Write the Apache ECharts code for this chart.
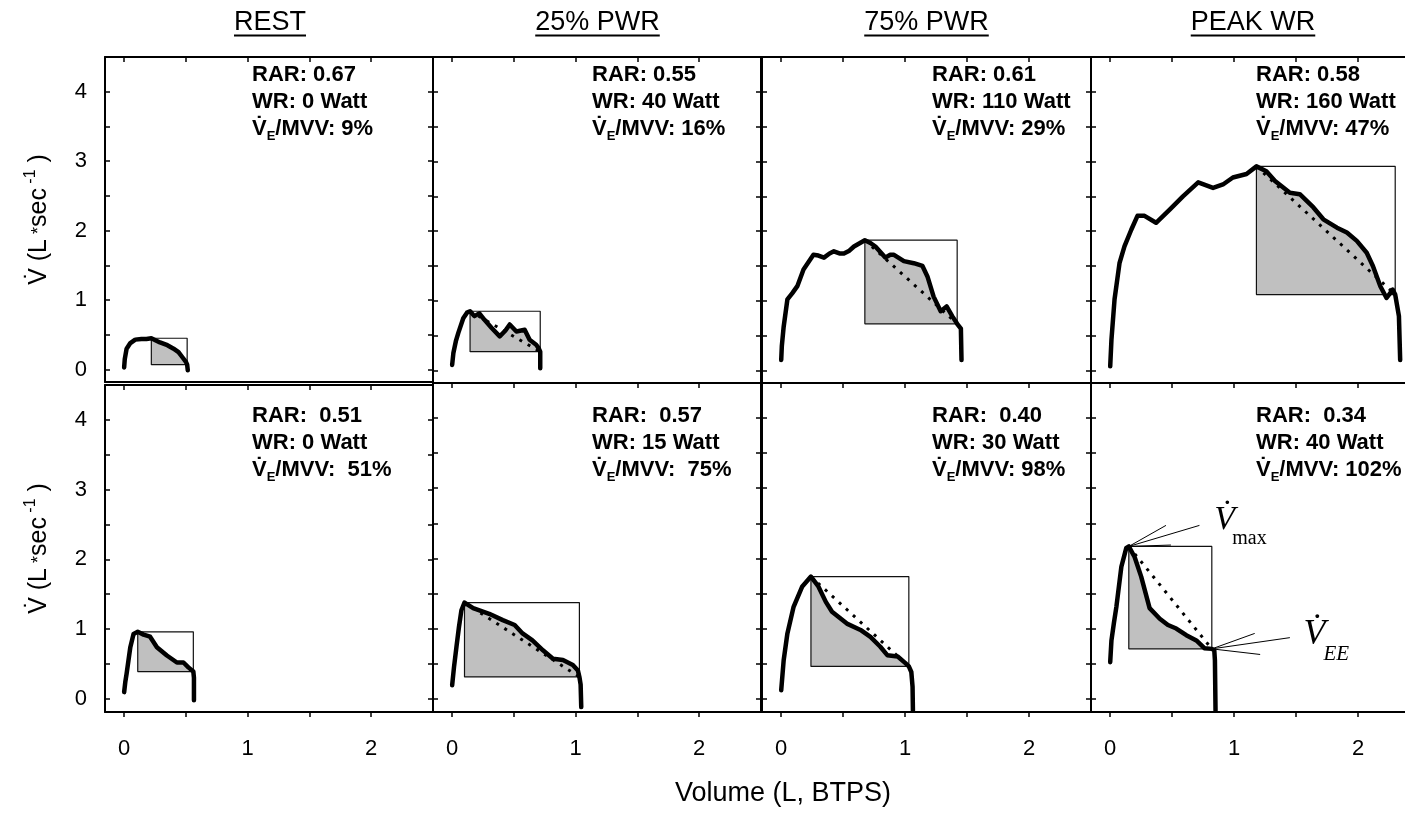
<!DOCTYPE html>
<html><head><meta charset="utf-8">
<script src="https://cdn.jsdelivr.net/npm/echarts@6/dist/echarts.min.js"></script>
<style>html,body{margin:0;padding:0;background:#fff}#c{width:1405px;height:813px}</style>
</head><body><div id="c"></div>
<script>
// ---------------- DATA ----------------
const panelTitles = ['REST', '25% PWR', '75% PWR', 'PEAK WR'];
const xTickValues = [0, 0.5, 1, 1.5, 2];
const xLabelValues = [0, 1, 2];
const yTickValues = [0, 0.5, 1, 1.5, 2, 2.5, 3, 3.5, 4];
const yLabelValues = [0, 1, 2, 3, 4];
const xAxisTitle = 'Volume (L, BTPS)';

// top row (healthy): volume (L) and flow (L/s)
const volRestTop = [0, 0.005, 0.02, 0.05, 0.09, 0.14, 0.18, 0.22, 0.29, 0.35, 0.40, 0.44, 0.47, 0.50, 0.51, 0.515];
const flowRestTop = [0.03, 0.15, 0.30, 0.38, 0.43, 0.44, 0.44, 0.45, 0.39, 0.35, 0.30, 0.25, 0.18, 0.11, 0.07, -0.01];
const vol25Top = [0, 0.01, 0.03, 0.05, 0.09, 0.12, 0.145, 0.18, 0.22, 0.26, 0.32, 0.385, 0.43, 0.466, 0.52, 0.587, 0.627, 0.68, 0.70, 0.713, 0.713];
const flow25Top = [0.08, 0.25, 0.42, 0.54, 0.75, 0.83, 0.85, 0.78, 0.82, 0.73, 0.61, 0.49, 0.57, 0.66, 0.56, 0.585, 0.44, 0.37, 0.32, 0.27, 0.03];
const vol75Top = [0, 0.005, 0.02, 0.05, 0.09, 0.13, 0.18, 0.26, 0.30, 0.345, 0.39, 0.425, 0.47, 0.506, 0.55, 0.587, 0.675, 0.72, 0.76, 0.80, 0.84, 0.88, 0.91, 0.99, 1.07, 1.14, 1.18, 1.23, 1.287, 1.335, 1.38, 1.42, 1.45, 1.455];
const flow75Top = [0.15, 0.35, 0.63, 1.02, 1.11, 1.21, 1.45, 1.66, 1.65, 1.62, 1.68, 1.71, 1.68, 1.68, 1.72, 1.78, 1.87, 1.83, 1.78, 1.70, 1.62, 1.66, 1.66, 1.57, 1.54, 1.50, 1.35, 1.06, 0.85, 0.92, 0.78, 0.67, 0.60, 0.15];
const volPeakTop = [0, 0.01, 0.035, 0.075, 0.115, 0.17, 0.22, 0.277, 0.37, 0.48, 0.587, 0.71, 0.83, 0.91, 0.99, 1.10, 1.18, 1.26, 1.33, 1.45, 1.53, 1.64, 1.72, 1.83, 1.91, 1.99, 2.07, 2.12, 2.18, 2.23, 2.28, 2.30, 2.33, 2.34];
const flowPeakTop = [0.06, 0.44, 1.02, 1.54, 1.78, 2.02, 2.22, 2.22, 2.12, 2.31, 2.50, 2.70, 2.62, 2.67, 2.77, 2.82, 2.93, 2.86, 2.72, 2.55, 2.53, 2.34, 2.17, 2.05, 1.98, 1.86, 1.69, 1.50, 1.21, 1.04, 1.16, 1.09, 0.78, 0.15];

// bottom row (patient)
const volRestBot = [0, 0.01, 0.02, 0.035, 0.05, 0.076, 0.11, 0.157, 0.21, 0.265, 0.346, 0.427, 0.48, 0.52, 0.56, 0.565, 0.565];
const flowRestBot = [0.095, 0.25, 0.36, 0.55, 0.74, 0.93, 0.96, 0.92, 0.89, 0.74, 0.62, 0.52, 0.52, 0.45, 0.39, 0.30, -0.02];
const vol25Bot = [0, 0.015, 0.035, 0.055, 0.075, 0.10, 0.17, 0.30, 0.41, 0.506, 0.57, 0.65, 0.735, 0.816, 0.897, 0.977, 1.018, 1.03, 1.04, 1.045];
const flow25Bot = [0.19, 0.45, 0.74, 1.02, 1.26, 1.37, 1.29, 1.21, 1.12, 1.05, 0.93, 0.83, 0.69, 0.57, 0.55, 0.48, 0.40, 0.31, 0.20, -0.12];
const vol75Bot = [0, 0.02, 0.05, 0.10, 0.17, 0.24, 0.30, 0.36, 0.41, 0.53, 0.64, 0.72, 0.80, 0.856, 0.94, 1.00, 1.03, 1.05, 1.06, 1.063];
const flow75Bot = [0.12, 0.55, 0.93, 1.31, 1.60, 1.74, 1.60, 1.38, 1.24, 1.07, 0.98, 0.88, 0.74, 0.62, 0.60, 0.51, 0.46, 0.38, 0.17, -0.17];
const volPeakBot = [0, 0.01, 0.03, 0.05, 0.09, 0.13, 0.15, 0.197, 0.25, 0.318, 0.40, 0.466, 0.533, 0.614, 0.695, 0.76, 0.82, 0.84, 0.845, 0.85];
const flowPeakBot = [0.52, 0.83, 1.08, 1.31, 1.88, 2.15, 2.17, 2.02, 1.74, 1.29, 1.14, 1.05, 1.00, 0.905, 0.83, 0.72, 0.71, 0.69, 0.55, -0.17];

// peak expiratory flow point and end-expiratory point, per panel (top row then bottom row)
const vmaxVol = [0.22, 0.145, 0.675, 1.18, 0.11, 0.10, 0.24, 0.15];
const vmaxFlow = [0.45, 0.85, 1.87, 2.93, 0.96, 1.37, 1.74, 2.17];
const veeVol = [0.51, 0.713, 1.42, 2.30, 0.56, 1.03, 1.03, 0.82];
const veeFlow = [0.07, 0.27, 0.67, 1.09, 0.39, 0.31, 0.46, 0.71];
const showDiagonal = [false, true, true, true, false, true, true, true];

const rarText = ['RAR: 0.67', 'RAR: 0.55', 'RAR: 0.61', 'RAR: 0.58', 'RAR:  0.51', 'RAR:  0.57', 'RAR:  0.40', 'RAR:  0.34'];
const wrText = ['WR: 0 Watt', 'WR: 40 Watt', 'WR: 110 Watt', 'WR: 160 Watt', 'WR: 0 Watt', 'WR: 15 Watt', 'WR: 30 Watt', 'WR: 40 Watt'];
const mvvText = ['/MVV: 9%', '/MVV: 16%', '/MVV: 29%', '/MVV: 47%', '/MVV:  51%', '/MVV:  75%', '/MVV: 98%', '/MVV: 102%'];

// ---------------- LAYOUT ----------------
const FONT = '"Liberation Sans", Arial, Helvetica, sans-serif';
const SERIF = '"Liberation Serif", "Times New Roman", serif';
const colLeft = [105, 433, 762, 1091];
const colWidth = [328, 328, 329, 314];
const colXMax = [2.5, 2.5, 2.5, 2.379];   // last panel is cut by the page edge
const titleCenter = [270, 597.5, 926.5, 1253];
const annoOffset = [147, 159, 170, 165];
const X_MIN = -0.155;
const Y_MAX = 4.5;

const curves = [
  [volRestTop, flowRestTop], [vol25Top, flow25Top], [vol75Top, flow75Top], [volPeakTop, flowPeakTop],
  [volRestBot, flowRestBot], [vol25Bot, flow25Bot], [vol75Bot, flow75Bot], [volPeakBot, flowPeakBot]
];

function shadePolygon(v, f, xm, ym, xe, ye) {
  const pts = [[xm, ye]];
  let started = false;
  for (let k = 0; k < v.length; k++) {
    if (!started && v[k] === xm && f[k] === ym) started = true;
    if (!started) continue;
    if (f[k] <= ye) {
      const p = pts[pts.length - 1];
      const t = (p[1] - ye) / (p[1] - f[k] || 1);
      pts.push([p[0] + t * (v[k] - p[0]), ye]);
      break;
    }
    pts.push([v[k], f[k]]);
  }
  return pts;
}

const grids = [], xAxes = [], yAxes = [], series = [];
for (let i = 0; i < 8; i++) {
  const row = i < 4 ? 0 : 1, col = i % 4;
  let top, height, yMin;
  if (row === 0) { top = 57; height = col === 0 ? 325 : 326; yMin = -0.18; }
  else { top = col === 0 ? 385 : 383; height = 712 - top; yMin = -0.19; }
  grids.push({ left: colLeft[col], top: top, width: colWidth[col], height: height });

  const axisLine = { show: true, onZero: false, lineStyle: { color: '#000', width: 2 } };
  xAxes.push({
    gridIndex: i, type: 'value', min: X_MIN, max: colXMax[col], position: 'bottom',
    axisLine: axisLine,
    axisTick: { show: row === 1, inside: false, length: 5, customValues: xTickValues, lineStyle: { color: '#000', width: 1.5 } },
    axisLabel: { show: row === 1, customValues: xLabelValues, fontFamily: FONT, fontSize: 22, color: '#000', margin: 26, formatter: v => String(Math.round(v)) },
    splitLine: { show: false }
  });
  xAxes.push({
    gridIndex: i, type: 'value', min: X_MIN, max: colXMax[col], position: 'top',
    axisLine: axisLine,
    axisTick: { show: true, inside: true, length: 5, customValues: xTickValues, lineStyle: { color: '#000', width: 1.5 } },
    axisLabel: { show: false }, splitLine: { show: false }
  });
  const yLeft = {
    gridIndex: i, type: 'value', min: yMin, max: Y_MAX, position: 'left',
    axisLine: axisLine,
    axisTick: { show: true, inside: true, length: 5, customValues: yTickValues, lineStyle: { color: '#000', width: 1.5 } },
    axisLabel: { show: col === 0, customValues: yLabelValues, fontFamily: FONT, fontSize: 22, color: '#000', margin: 18, formatter: v => String(Math.round(v)) },
    splitLine: { show: false }
  };
  if (col === 0) {
    yLeft.name = '{v|V\u0307 (L}{a| *}{v|sec}{sup| -1}{v| )}';
    yLeft.nameLocation = 'middle';
    yLeft.nameRotate = 90;
    yLeft.nameGap = 50;
    yLeft.nameTextStyle = {
      fontFamily: FONT, fontSize: 25, color: '#000',
      rich: {
        v: { fontFamily: FONT, fontSize: 25, color: '#000', lineHeight: 32 },
        a: { fontFamily: FONT, fontSize: 18, color: '#000', lineHeight: 32 },
        sup: { fontFamily: FONT, fontSize: 16, color: '#000', lineHeight: 17, verticalAlign: 'top' }
      }
    };
  }
  yAxes.push(yLeft);
  yAxes.push({
    gridIndex: i, type: 'value', min: yMin, max: Y_MAX, position: 'right',
    axisLine: { show: col !== 3, onZero: false, lineStyle: { color: '#000', width: 2 } },
    axisTick: { show: col !== 3, inside: true, length: 5, customValues: yTickValues, lineStyle: { color: '#000', width: 1.5 } },
    axisLabel: { show: false }, splitLine: { show: false }
  });

  const v = curves[i][0], f = curves[i][1];
  const xm = vmaxVol[i], ym = vmaxFlow[i], xe = veeVol[i], ye = veeFlow[i];
  const poly = shadePolygon(v, f, xm, ym, xe, ye);
  const xi = 2 * i, yi = 2 * i;
  series.push({
    type: 'custom', xAxisIndex: xi, yAxisIndex: yi, silent: true, z: 1,
    data: [[xm, ye]],
    renderItem: (params, api) => ({
      type: 'polygon',
      shape: { points: poly.map(p => api.coord(p)) },
      style: { fill: '#c0c0c0', stroke: null }
    })
  });
  series.push({
    type: 'line', xAxisIndex: xi, yAxisIndex: yi, silent: true, z: 2, showSymbol: false, symbol: 'none',
    data: [[xm, ym], [xe, ym], [xe, ye], [xm, ye], [xm, ym]],
    lineStyle: { color: '#111', width: 1.2 }
  });
  if (showDiagonal[i]) {
    series.push({
      type: 'line', xAxisIndex: xi, yAxisIndex: yi, silent: true, z: 3, showSymbol: false, symbol: 'none',
      data: [[xm, ym], [xe, ye]],
      lineStyle: { color: '#000', width: 3, type: [3, 6.5] }
    });
  }
  series.push({
    type: 'line', xAxisIndex: xi, yAxisIndex: yi, silent: true, z: 4, showSymbol: false, symbol: 'none',
    data: v.map((x, k) => [x, f[k]]),
    lineStyle: { color: '#000', width: 4.5, cap: 'round', join: 'round' }
  });
}

// leader lines for the V'max and V'EE annotation (bottom-right panel, data units)
const leaderEndsMax = [[0.45, 2.47], [0.72, 2.47], [0.49, 2.19]];
const leaderEndsEE = [[1.166, 0.93], [1.45, 0.87], [1.21, 0.63]];
leaderEndsMax.forEach(e => series.push({
  type: 'line', xAxisIndex: 14, yAxisIndex: 14, silent: true, z: 5, symbol: 'none',
  data: [[vmaxVol[7], vmaxFlow[7]], e], lineStyle: { color: '#000', width: 1 }
}));
leaderEndsEE.forEach(e => series.push({
  type: 'line', xAxisIndex: 14, yAxisIndex: 14, silent: true, z: 5, symbol: 'none',
  data: [[veeVol[7], veeFlow[7]], e], lineStyle: { color: '#000', width: 1 }
}));

// ---------------- GRAPHICS (titles, annotations) ----------------
const graphics = [];
const mctx = document.createElement('canvas').getContext('2d');
const TITLE_SIZE = 27;
mctx.font = TITLE_SIZE + 'px "Liberation Sans", Arial, sans-serif';
panelTitles.forEach((t, c) => {
  graphics.push({ type: 'text', x: titleCenter[c], y: 23, silent: true,
    style: { text: t, fontFamily: FONT, fontSize: TITLE_SIZE, fill: '#000', align: 'center', verticalAlign: 'middle' } });
  const w = mctx.measureText(t).width;
  graphics.push({ type: 'line', silent: true,
    shape: { x1: titleCenter[c] - w / 2, y1: 35.5, x2: titleCenter[c] + w / 2, y2: 35.5 },
    style: { stroke: '#000', lineWidth: 2 } });
});
for (let i = 0; i < 8; i++) {
  const row = i < 4 ? 0 : 1, col = i % 4;
  graphics.push({ type: 'text', silent: true,
    x: colLeft[col] + annoOffset[col], y: row === 0 ? 61 : 402,
    style: {
      text: '{b|' + rarText[i] + '}\n{b|' + wrText[i] + '}\n{b|V\u0307}{s|E}{b|' + mvvText[i] + '}',
      align: 'left', verticalAlign: 'top',
      rich: {
        b: { fontFamily: FONT, fontWeight: 'bold', fontSize: 22, lineHeight: 27.3, fill: '#000' },
        s: { fontFamily: FONT, fontWeight: 'bold', fontSize: 13, lineHeight: 13, verticalAlign: 'bottom', fill: '#000' }
      }
    } });
}
graphics.push({ type: 'text', x: 783, y: 794, silent: true,
  style: { text: xAxisTitle, fontFamily: FONT, fontSize: 27, fill: '#000', align: 'center', verticalAlign: 'middle' } });

const chart = echarts.init(document.getElementById('c'), null, { renderer: 'canvas' });
chart.setOption({
  animation: false,
  backgroundColor: '#fff',
  grid: grids, xAxis: xAxes, yAxis: yAxes, series: series, graphic: graphics
});

// V'max / V'EE labels anchored in data units of the bottom-right panel
const vmaxLabelAt = [0.84, 2.55];
const veeLabelAt = [1.56, 0.92];
const pMax = chart.convertToPixel({ gridIndex: 7 }, vmaxLabelAt);
const pEE = chart.convertToPixel({ gridIndex: 7 }, veeLabelAt);
graphics.push(
  { type: 'text', silent: true, x: pMax[0], y: pMax[1],
    style: { text: 'V\u0307', fontFamily: SERIF, fontStyle: 'italic', fontSize: 34, fill: '#000', align: 'left', verticalAlign: 'middle' } },
  { type: 'text', silent: true, x: pMax[0] + 18, y: pMax[1] + 19,
    style: { text: 'max', fontFamily: SERIF, fontSize: 20, fill: '#000', align: 'left', verticalAlign: 'middle' } },
  { type: 'text', silent: true, x: pEE[0], y: pEE[1],
    style: { text: 'V\u0307', fontFamily: SERIF, fontStyle: 'italic', fontSize: 36, fill: '#000', align: 'left', verticalAlign: 'middle' } },
  { type: 'text', silent: true, x: pEE[0] + 20, y: pEE[1] + 20,
    style: { text: 'EE', fontFamily: SERIF, fontStyle: 'italic', fontSize: 21, fill: '#000', align: 'left', verticalAlign: 'middle' } }
);
chart.setOption({ graphic: graphics });
</script>
</body></html>
